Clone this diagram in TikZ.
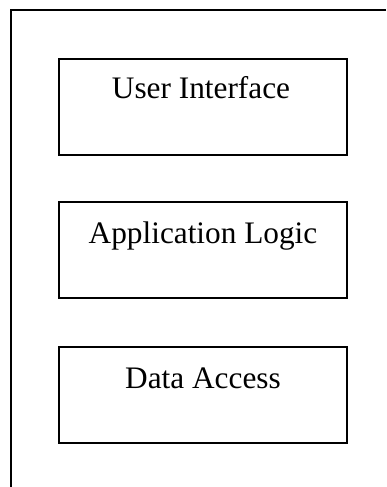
\documentclass[tikz,border=0pt]{standalone}
\usepackage{fontspec}
\setmainfont{Liberation Serif}
\begin{document}
\begin{tikzpicture}[x=1pt,y=-1pt,
  layerbox/.style={draw=black,line width=2.4pt,minimum width=288pt,minimum height=96pt,inner sep=0pt},
  layertext/.style={anchor=base,inner sep=0pt,font=\fontsize{31.3}{36}\selectfont}]
\useasboundingbox (0,0) rectangle (386,487);
\coordinate (tr) at (386,10);
\coordinate (tl) at (11,10);
\coordinate (bl) at (11,487);
\draw[line width=2.4pt] (tr) -- (tl) -- (bl);
\node[layerbox] (ui) at (203,107) {};
\node[layerbox] (al) at (203,250) {};
\node[layerbox] (da) at (203,395) {};
\node[layertext] (uit) at (201,99) {User Interface};
\node[layertext] (alt) at (203,243) {Application Logic};
\node[layertext] (dat) at (203,388) {Data Access};
\end{tikzpicture}
\end{document}
